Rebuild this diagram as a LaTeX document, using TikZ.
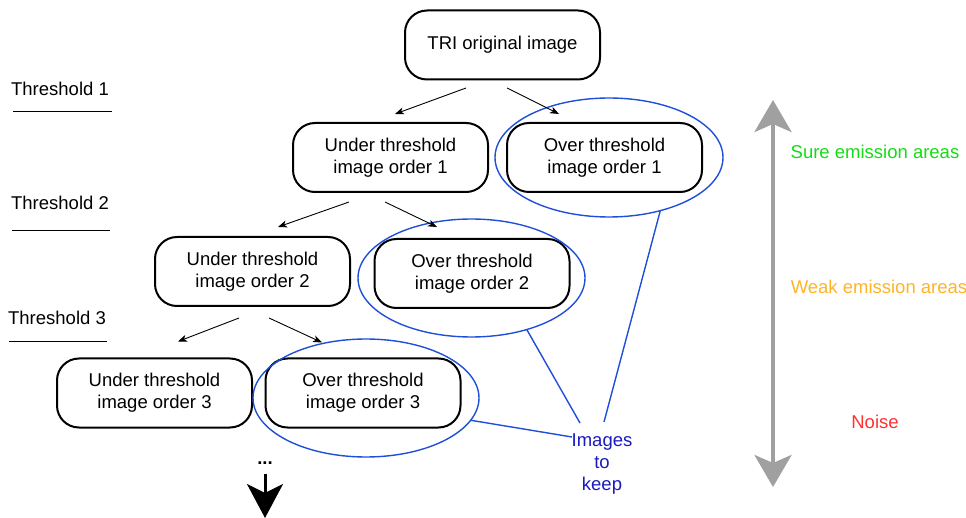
\documentclass[tikz,border=0pt]{standalone}
\usepackage{fontspec}
\setmainfont{Liberation Sans}
\usetikzlibrary{shapes.geometric,arrows.meta,calc}
\definecolor{ellblue}{HTML}{1F4FD8}
\definecolor{keepblue}{HTML}{1A1AC0}
\definecolor{suregreen}{HTML}{11DD11}
\definecolor{weakorange}{HTML}{FFB326}
\definecolor{noisered}{HTML}{FF3030}
\definecolor{bargray}{HTML}{A0A0A0}
\begin{document}
\begin{tikzpicture}[x=1pt,y=-1pt,
  imgbox/.style={draw, line width=2pt, rounded corners=22pt, minimum width=195pt, minimum height=69pt, align=center, font=\fontsize{18.5}{22}\selectfont, inner sep=0pt},
  keepell/.style={draw=ellblue, line width=1.4pt, ellipse, inner sep=0pt, outer sep=0pt},
  lbl/.style={font=\fontsize{18.5}{22}\selectfont, inner sep=0pt, align=center},
  tree/.style={-{Stealth[length=9pt,width=7pt,inset=2.5pt]}, line width=0.9pt},
  keepline/.style={draw=ellblue, line width=1.4pt},
  thline/.style={line width=1pt},
]
\useasboundingbox (0,0) rectangle (966,518);

% boxes
\node[imgbox] (tri) at (502.5,45) {TRI original image};
\node[imgbox] (u1) at (390.5,157.5) {Under threshold\\image order 1};
\node[imgbox] (o1) at (604.5,157.5) {Over threshold\\image order 1};
\node[imgbox] (u2) at (252.5,271.5) {Under threshold\\image order 2};
\node[imgbox] (o2) at (472,273.5) {Over threshold\\image order 2};
\node[imgbox] (u3) at (154.5,393) {Under threshold\\image order 3};
\node[imgbox] (o3) at (363,393) {Over threshold\\image order 3};

% ellipses
\node[keepell, minimum width=228pt, minimum height=119pt] (e1) at (609,157.5) {};
\node[keepell, minimum width=227pt, minimum height=118pt] (e2) at (471.5,278) {};
\node[keepell, minimum width=226pt, minimum height=118pt] (e3) at (366,398) {};

% tree arrows
\draw[tree] ($(tri.south)+(-36.5,7.5)$) -- ($(u1.north)+(4.5,-8)$);
\draw[tree] ($(tri.south)+(4.5,7.5)$) -- ($(o1.north)+(-45.5,-8)$);
\draw[tree] ($(u1.south)+(-41.5,9)$) -- ($(u2.north)+(25.5,-9)$);
\draw[tree] ($(u1.south)+(-5.5,9)$) -- ($(o2.north)+(-35,-11)$);
\draw[tree] ($(u2.south)+(-13.5,11)$) -- ($(u3.north)+(23.5,-16)$);
\draw[tree] ($(u2.south)+(16.5,11)$) -- ($(o3.north)+(-41,-15)$);

% thresholds
\node[lbl] (t1) at (60,89) {Threshold 1};
\node[lbl] (t2) at (60,203) {Threshold 2};
\node[lbl] (t3) at (57,318) {Threshold 3};
\draw[thline] (13,112) -- (112,112);
\draw[thline] (12,231) -- (110,231);
\draw[thline] (9,342) -- (107,342);

% images to keep
\node[lbl, text=keepblue] (keep) at (602,464) {Images\\to\\keep};
\coordinate (k1) at (604,422);
\coordinate (k2) at (580,423);
\coordinate (k3) at (572,437);
\draw[keepline] (e1.-46) -- (k1);
\draw[keepline] (e2.-43) -- (k2);
\draw[keepline] (e3.-12) -- (k3);

% continuation
\node[lbl, font=\fontsize{18.5}{22}\selectfont\bfseries] (dots) at (265,463) {...};
\coordinate (dn) at (265,518);
\draw[line width=3pt, -{Stealth[length=34pt,width=36pt,inset=9pt]}] ($(dots.south)+(0,9)$) -- (dn);

% right scale
\coordinate (g1) at (773,100);
\coordinate (g2) at (773,487);
\draw[bargray, line width=4pt, {Stealth[length=32pt,width=37pt,inset=8pt]}-{Stealth[length=32pt,width=37pt,inset=8pt]}] (g1) -- (g2);
\node[lbl, text=suregreen] (sure) at (875,152) {Sure emission areas};
\node[lbl, text=weakorange] (weak) at (879,287) {Weak emission areas};
\node[lbl, text=noisered] (noise) at (875,422) {Noise};
\end{tikzpicture}
\end{document}
